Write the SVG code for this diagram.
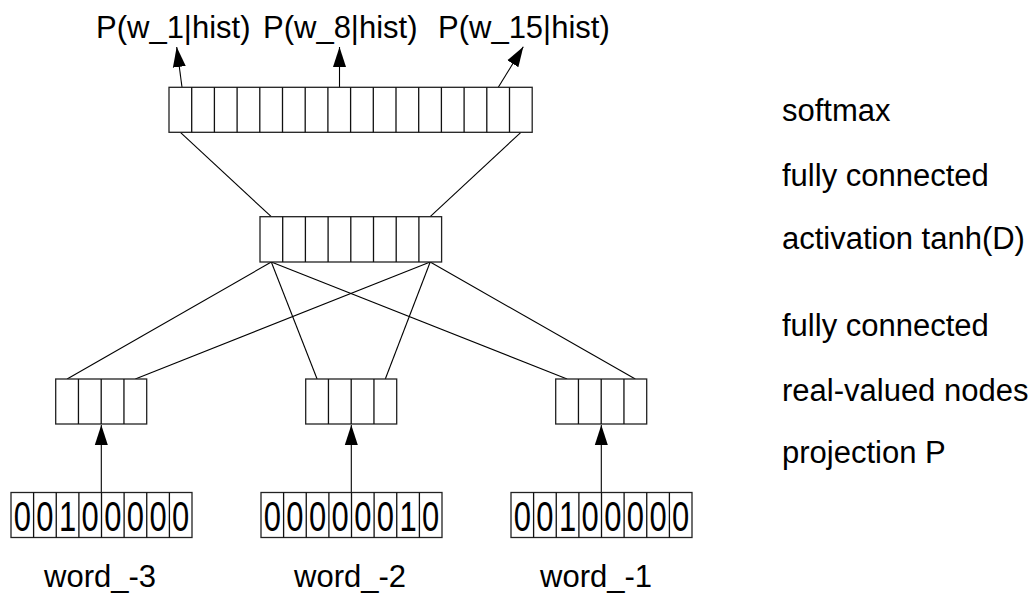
<svg xmlns="http://www.w3.org/2000/svg" width="1034" height="597" viewBox="0 0 1034 597">
<defs>
<style>
.box{fill:#fff;stroke:#222;stroke-width:1.3}
.cell{stroke:#111;stroke-width:1.3}
.ln{stroke:#000;stroke-width:1.1;fill:none}
.lbl{font-family:"Liberation Sans",Arial,sans-serif;font-size:31px;fill:#000}
.dig{font-family:"Liberation Sans",Arial,sans-serif;font-size:43px;fill:#000;text-anchor:middle}
</style>
<marker id="ah" markerUnits="userSpaceOnUse" markerWidth="22" markerHeight="16" refX="20" refY="7" orient="auto">
<path d="M0,0.5 L20,7 L0,13.5 z" fill="#000"/>
</marker>
</defs>
<rect width="1034" height="597" fill="#fff"/>

<g id="connectors">
<line class="ln" x1="182" y1="87.3" x2="176.7" y2="47" marker-end="url(#ah)"/>
<line class="ln" x1="339.5" y1="87.3" x2="339.5" y2="47" marker-end="url(#ah)"/>
<line class="ln" x1="498.3" y1="87.3" x2="523.3" y2="46.7" marker-end="url(#ah)"/>
<line class="ln" x1="180.4" y1="132.3" x2="271.3" y2="216.7"/>
<line class="ln" x1="520.9" y1="132.3" x2="430.2" y2="216.7"/>
<line class="ln" x1="271.3" y1="262" x2="67.1" y2="379"/>
<line class="ln" x1="430.2" y1="262" x2="135.3" y2="379"/>
<line class="ln" x1="271.3" y1="262" x2="317.1" y2="379"/>
<line class="ln" x1="430.2" y1="262" x2="385.3" y2="379"/>
<line class="ln" x1="271.3" y1="262" x2="567.1" y2="379"/>
<line class="ln" x1="430.2" y1="262" x2="635.3" y2="379"/>
<line class="ln" x1="101.3" y1="492.5" x2="101.3" y2="425" marker-end="url(#ah)"/>
<line class="ln" x1="351.3" y1="492.5" x2="351.3" y2="425" marker-end="url(#ah)"/>
<line class="ln" x1="601.3" y1="492.5" x2="601.3" y2="425" marker-end="url(#ah)"/>
</g>

<g id="softmax-layer">
<rect class="box" x="169" y="87.3" width="363.2" height="45"/>
<path class="cell" d="M191.7,87.3V132.3M214.4,87.3V132.3M237.1,87.3V132.3M259.8,87.3V132.3M282.5,87.3V132.3M305.2,87.3V132.3M327.9,87.3V132.3M350.6,87.3V132.3M373.3,87.3V132.3M396,87.3V132.3M418.7,87.3V132.3M441.4,87.3V132.3M464.1,87.3V132.3M486.8,87.3V132.3M509.5,87.3V132.3"/>
</g>

<g id="hidden-layer">
<rect class="box" x="260" y="216.7" width="181.6" height="45.3"/>
<path class="cell" d="M282.7,216.7V262M305.4,216.7V262M328.1,216.7V262M350.8,216.7V262M373.5,216.7V262M396.2,216.7V262M418.9,216.7V262"/>
</g>

<g id="proj-1">
<rect class="box" x="55.7" y="379" width="91" height="45"/>
<path class="cell" d="M78.45,379V424M101.2,379V424M123.95,379V424"/>
</g>
<g id="proj-2">
<rect class="box" x="305.7" y="379" width="91" height="45"/>
<path class="cell" d="M328.45,379V424M351.2,379V424M373.95,379V424"/>
</g>
<g id="proj-3">
<rect class="box" x="555.7" y="379" width="91" height="45"/>
<path class="cell" d="M578.45,379V424M601.2,379V424M623.95,379V424"/>
</g>

<g id="word-3">
<rect class="box" x="11" y="492.5" width="181" height="45"/>
<path class="cell" d="M33.6,492.5V537.5M56.25,492.5V537.5M78.9,492.5V537.5M101.5,492.5V537.5M124.1,492.5V537.5M146.75,492.5V537.5M169.4,492.5V537.5"/>
<text class="dig" transform="scale(0.72,1)" x="30.97 62.36 93.89 125.28 156.67 188.06 219.58 250.97" y="531">00100000</text>
<text class="lbl" x="44" y="587">word_-3</text>
</g>

<g id="word-2">
<rect class="box" x="261" y="492.5" width="181" height="45"/>
<path class="cell" d="M283.6,492.5V537.5M306.25,492.5V537.5M328.9,492.5V537.5M351.5,492.5V537.5M374.1,492.5V537.5M396.75,492.5V537.5M419.4,492.5V537.5"/>
<text class="dig" transform="scale(0.72,1)" x="378.19 409.58 441.11 472.5 503.89 535.28 566.8 598.19" y="531">00000010</text>
<text class="lbl" x="294" y="587">word_-2</text>
</g>

<g id="word-1">
<rect class="box" x="511" y="492.5" width="181" height="45"/>
<path class="cell" d="M533.6,492.5V537.5M556.25,492.5V537.5M578.9,492.5V537.5M601.5,492.5V537.5M624.1,492.5V537.5M646.75,492.5V537.5M669.4,492.5V537.5"/>
<text class="dig" transform="scale(0.72,1)" x="725.41 756.8 788.33 819.72 851.11 882.5 914.02 945.41" y="531">00100000</text>
<text class="lbl" x="540" y="587">word_-1</text>
</g>

<g id="output-labels">
<text class="lbl" x="96" y="38">P(w_1|hist)</text>
<text class="lbl" x="263" y="38">P(w_8|hist)</text>
<text class="lbl" x="438" y="38">P(w_15|hist)</text>
</g>

<g id="layer-labels">
<text class="lbl" x="782" y="121">softmax</text>
<text class="lbl" x="782" y="186">fully connected</text>
<text class="lbl" x="782" y="249">activation tanh(D)</text>
<text class="lbl" x="782" y="336">fully connected</text>
<text class="lbl" x="782" y="401">real-valued nodes</text>
<text class="lbl" x="782" y="463">projection P</text>
</g>
</svg>
